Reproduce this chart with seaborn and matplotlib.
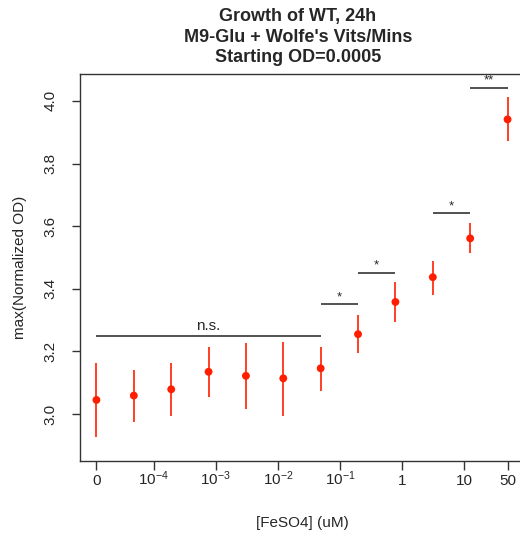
import numpy as np
import pandas as pd
import matplotlib
matplotlib.use("Agg")
import matplotlib.pyplot as plt
import seaborn as sns

# FeSO4 concentrations (uM), 4-fold dilution series plus a zero control
conc = [0, 4.77e-5, 1.91e-4, 7.63e-4, 3.05e-3, 0.0122, 0.0488, 0.195, 0.781, 3.125, 12.5, 50]
od_mean = [3.045, 3.059, 3.079, 3.135, 3.122, 3.114, 3.146, 3.255, 3.358, 3.437, 3.561, 3.941]
od_low = [2.928, 2.975, 2.994, 3.055, 3.017, 2.994, 3.075, 3.194, 3.294, 3.380, 3.513, 3.873]
od_high = [3.162, 3.141, 3.163, 3.215, 3.228, 3.231, 3.215, 3.316, 3.421, 3.490, 3.611, 4.011]

tick_vals = [0, 1e-4, 1e-3, 1e-2, 1e-1, 1, 10, 50]
tick_labels = ["0", r"$10^{-4}$", r"$10^{-3}$", r"$10^{-2}$", r"$10^{-1}$", "1", "10", "50"]

# significance brackets: (first index, last index, height, label)
brackets = [(0, 6, 3.250, "n.s."), (6, 7, 3.350, "*"), (7, 8, 3.451, "*"),
            (9, 10, 3.641, "*"), (10, 11, 4.041, "**")]

sns.set_style("white")
plt.rcParams["font.family"] = ["Liberation Sans", "DejaVu Sans"]
plt.rcParams["mathtext.default"] = "regular"


def xpos(c):
    # zero is drawn one dilution step left of the lowest concentration
    step = np.log10(4)
    lowest = np.log10(min(v for v in conc if v > 0))
    return lowest - step if c == 0 else np.log10(c)


df = pd.DataFrame({"x": [xpos(c) for c in conc], "od": od_mean,
                   "lo": od_low, "hi": od_high})

fig = plt.figure(figsize=(5.2, 5.4), dpi=100)
ax = fig.add_axes([80 / 520, 79 / 540, 444 / 520, 387 / 540])

red = "#ff1f00"
ax.vlines(df["x"], df["lo"], df["hi"], color=red, lw=1.2, zorder=2)
sns.scatterplot(data=df, x="x", y="od", color=red, s=32, edgecolor="none",
                zorder=3, ax=ax)

for i, j, h, lab in brackets:
    x0, x1 = df["x"][i], df["x"][j]
    ax.hlines(h, x0, x1, color="#222222", lw=1.1)
    if lab == "n.s.":
        ax.text((x0 + x1) / 2, h + 0.008, lab, ha="center", va="bottom", fontsize=11)
    else:
        ax.text((x0 + x1) / 2, h + 0.004, lab, ha="center", va="bottom", fontsize=9.5)

span = df["x"].max() - df["x"].min()
ax.set_xlim(df["x"].min() - 0.04 * span, df["x"].max() + 0.04 * span)
ax.set_ylim(2.85, 4.086)

ax.set_xticks([xpos(v) for v in tick_vals])
ax.set_xticklabels(tick_labels, fontsize=11)
for t in ax.get_xticklabels():
    t.set_va("baseline")
ax.tick_params(axis="x", length=6.5, width=1, color="#333333", pad=11, bottom=True)

ax.set_yticks([3.0, 3.2, 3.4, 3.6, 3.8, 4.0])
ax.set_yticklabels(["3.0", "3.2", "3.4", "3.6", "3.8", "4.0"], fontsize=11,
                   rotation=90, va="center")
ax.tick_params(axis="y", length=6, width=1, color="#333333", pad=10, left=True)

ax.set_xlabel("[FeSO4] (uM)", fontsize=11, labelpad=20)
ax.set_ylabel("max(Normalized OD)", fontsize=11, labelpad=12)

for side in ["left", "top", "bottom"]:
    ax.spines[side].set_color("#333333")
    ax.spines[side].set_linewidth(1)
ax.spines["right"].set_visible(False)

fig.text(298 / 520, 1 - 37 / 540, "Growth of WT, 24h\nM9-Glu + Wolfe's Vits/Mins\nStarting OD=0.0005",
         ha="center", va="center", fontsize=13, fontweight="bold", linespacing=1.3)

fig.savefig("out.png", dpi=100)
